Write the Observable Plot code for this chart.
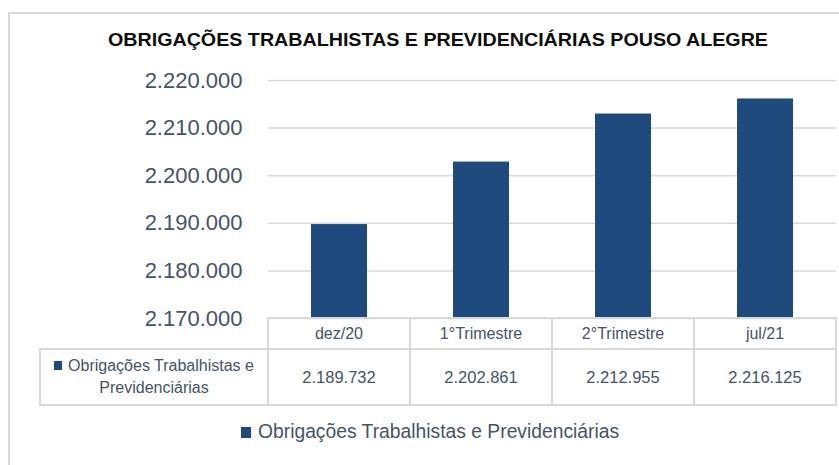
<!DOCTYPE html>
<html><head><meta charset="utf-8">
<script src="https://cdn.jsdelivr.net/npm/d3@7"></script>
<script src="https://cdn.jsdelivr.net/npm/@observablehq/plot@0.6"></script>
<style>
body{margin:0;background:#fff;}
#wrap{position:relative;width:839px;height:465px;overflow:hidden;font-family:"Liberation Sans",Arial,sans-serif;color:#44546A;background:#fff;}
#frame{position:absolute;left:8px;top:12px;width:900px;height:520px;border:2px solid #d9d9d9;box-sizing:border-box;}
.cell{position:absolute;border:2px solid #d9d9d9;box-sizing:border-box;display:flex;align-items:center;justify-content:center;text-align:center;}
#chart{position:absolute;left:0;top:0;}
#title{position:absolute;left:0;top:0;}
#legend{position:absolute;left:241px;top:421px;font-size:19.3px;white-space:nowrap;display:flex;align-items:center;}
.sw{display:inline-block;width:10px;height:11px;background:#1f4a7d;margin-right:7px;}
.sw2{display:inline-block;width:8px;height:9px;background:#1f4a7d;margin-right:6px;vertical-align:1px;}
</style></head>
<body>
<div id="wrap">
  <div id="frame"></div>
  <svg id="title" width="839" height="60"><text x="438" y="46" text-anchor="middle" font-family="Liberation Sans, Arial, sans-serif" font-weight="bold" font-size="18" fill="#0d0d0d" textLength="660" lengthAdjust="spacingAndGlyphs">OBRIGAÇÕES TRABALHISTAS E PREVIDENCIÁRIAS POUSO ALEGRE</text></svg>
  <div id="chart"></div>
  <div id="table"></div>
  <div id="legend"></div>
</div>
<script>
const categories = ["dez/20", "1°Trimestre", "2°Trimestre", "jul/21"];
const values = [2189732, 2202861, 2212955, 2216125];
const yTicks = [2170000, 2180000, 2190000, 2200000, 2210000, 2220000];
const seriesName = "Obrigações Trabalhistas e Previdenciárias";
const barColor = "#1f4a7d";

const fmt = v => d3.format(",")(v).replace(/,/g, ".");
const data = categories.map((c, i) => ({cat: c, value: values[i]}));

const chart = Plot.plot({
  width: 839,
  height: 330,
  marginLeft: 268,
  marginRight: 3,
  marginTop: 80,
  marginBottom: 12,
  style: {background: "transparent", overflow: "visible", fontFamily: "Liberation Sans, Arial, sans-serif"},
  x: {domain: categories, paddingInner: 0.606, paddingOuter: 0.303, axis: null},
  y: {domain: [2170000, 2220000], ticks: yTicks, tickFormat: fmt, axis: null, label: null},
  marks: [
    Plot.ruleY(yTicks, {stroke: "#d9d9d9", strokeWidth: 1.5}),
    Plot.barY(data, {x: "cat", y1: 2170000, y2: "value", fill: barColor}),
    Plot.axisY(yTicks, {tickSize: 0, tickPadding: 26, fontSize: 22, fill: "#44546A", tickFormat: fmt, label: null})
  ]
});
document.getElementById("chart").appendChild(chart);

const x = chart.scale("x");
const step = x.step, bw = x.bandwidth;
const table = document.getElementById("table");
const top1 = 318, h1 = 31, top2 = 349, h2 = 56;
function cell(left, top, w, h, html, fs) {
  const d = document.createElement("div");
  d.className = "cell";
  d.style.left = (left - 1) + "px";
  d.style.top = (top - 1) + "px";
  d.style.width = (w + 2) + "px";
  d.style.height = (h + 2) + "px";
  d.style.fontSize = fs + "px";
  d.innerHTML = html;
  table.appendChild(d);
  return d;
}
categories.forEach((c, i) => {
  const center = x.apply(c) + bw / 2;
  const left = center - step / 2;
  cell(left, top1, step, h1, c, 16);
  cell(left, top2, step, h2, fmt(values[i]), 16.5);
});
const firstLeft = x.apply(categories[0]) + bw / 2 - step / 2;
cell(40, top2, firstLeft - 40, h2, '<div style="line-height:22px"><span class="sw2"></span>Obrigações Trabalhistas e<br>Previdenciárias</div>', 16);

document.getElementById("legend").innerHTML = '<span class="sw"></span>' + seriesName;
</script>
</body></html>
